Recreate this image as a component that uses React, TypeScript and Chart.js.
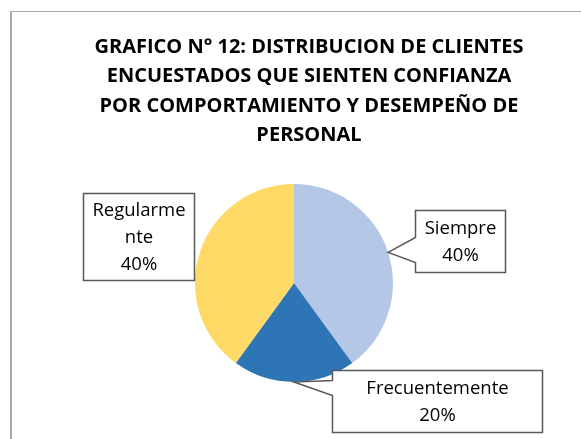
import React, { useEffect, useRef } from "react";
import { Chart, registerables } from "chart.js";

Chart.register(...registerables);

// ---- data ----
const categories = ["Siempre", "Frecuentemente", "Regularmente"];
const values = [40, 20, 40];
const percentLabels = ["40%", "20%", "40%"];
const labelNameLines = [["Siempre"], ["Frecuentemente"], ["Regularme", "nte"]];
const colors = ["#B4C7E7", "#2E75B6", "#FFD966"];
const titleLines = [
  "GRAFICO N° 12: DISTRIBUCION DE CLIENTES",
  "ENCUESTADOS QUE SIENTEN CONFIANZA",
  "POR COMPORTAMIENTO Y DESEMPEÑO DE",
  "PERSONAL",
];

// ---- callout styling (offsets relative to pie centre) ----
type Callout = { dx: number; dy: number; w: number; h: number; pointer: [number, number] | null };
const callouts: Callout[] = [
  { dx: 121, dy: -73, w: 90, h: 62, pointer: [27, 52] },
  { dx: 38, dy: 87, w: 210, h: 62, pointer: [10, 25] },
  { dx: -211, dy: -90, w: 111, h: 87, pointer: null },
];

const frame = {
  id: "frame",
  beforeDraw(chart: any) {
    const ctx = chart.ctx;
    ctx.save();
    ctx.fillStyle = "#fff";
    ctx.fillRect(0, 0, chart.width, chart.height);
    ctx.fillStyle = "#A8A8A8";
    ctx.fillRect(10, 11, chart.width - 10, 1);
    ctx.fillRect(10, 11, 2, chart.height - 11);
    // title (centred on the full, uncropped chart frame)
    ctx.fillStyle = "#000";
    ctx.font = "bold 20px 'Open Sans'";
    ctx.textAlign = "center";
    ctx.textBaseline = "middle";
    titleLines.forEach((t, k) => ctx.fillText(t, 309, 47 + k * 29.5));
    ctx.restore();
  },
};

const calloutPlugin = {
  id: "callouts",
  afterDatasetsDraw(chart: any) {
    const ctx = chart.ctx;
    const meta = chart.getDatasetMeta(0);
    meta.data.forEach((arc: any, i: number) => {
      const c = callouts[i];
      if (!c) return;
      const { x, y, startAngle, endAngle, outerRadius } = arc.getProps(
        ["x", "y", "startAngle", "endAngle", "outerRadius"],
        true
      );
      const mid = (startAngle + endAngle) / 2;
      const tipX = x + Math.cos(mid) * outerRadius;
      const tipY = y + Math.sin(mid) * outerRadius;
      const L = Math.round(x + c.dx) + 0.5;
      const T = Math.round(y + c.dy) + 0.5;
      const R = L + c.w;
      const B = T + c.h;
      ctx.save();
      ctx.beginPath();
      ctx.moveTo(L, T);
      ctx.lineTo(R, T);
      ctx.lineTo(R, B);
      ctx.lineTo(L, B);
      if (c.pointer) {
        ctx.lineTo(L, T + c.pointer[1]);
        ctx.lineTo(tipX, tipY);
        ctx.lineTo(L, T + c.pointer[0]);
      }
      ctx.closePath();
      ctx.fillStyle = "#fff";
      ctx.fill();
      ctx.lineWidth = 1.5;
      ctx.strokeStyle = "#595959";
      ctx.stroke();

      const lines = [...labelNameLines[i], percentLabels[i]];
      const lh = 27;
      ctx.fillStyle = "#000";
      ctx.font = "18.5px 'Open Sans'";
      ctx.textAlign = "center";
      ctx.textBaseline = "middle";
      const cx = (L + R) / 2;
      const cy = (T + B) / 2;
      const start = cy - ((lines.length - 1) * lh) / 2;
      lines.forEach((t, k) => ctx.fillText(t, cx, start + k * lh + 1));
      ctx.restore();
    });
  },
};

export default function App() {
  const ref = useRef<HTMLCanvasElement | null>(null);
  useEffect(() => {
    if (!ref.current) return;
    const chart = new Chart(ref.current, {
      type: "pie",
      data: {
        labels: categories,
        datasets: [
          {
            data: values,
            backgroundColor: colors,
            borderWidth: 0,
          },
        ],
      },
      options: {
        responsive: false,
        animation: false,
        devicePixelRatio: 1,
        layout: { padding: { left: 100, right: 93, top: 184, bottom: 57 } },
        plugins: {
          legend: { display: false },
          tooltip: { enabled: false },
          title: { display: false },
        },
      },
      plugins: [frame, calloutPlugin],
    });
    return () => chart.destroy();
  }, []);
  return (
    <div style={{ position: "fixed", left: 0, top: 0, width: 581, height: 439, background: "#fff" }}>
      <canvas ref={ref} width={581} height={439} style={{ display: "block" }} />
    </div>
  );
}
